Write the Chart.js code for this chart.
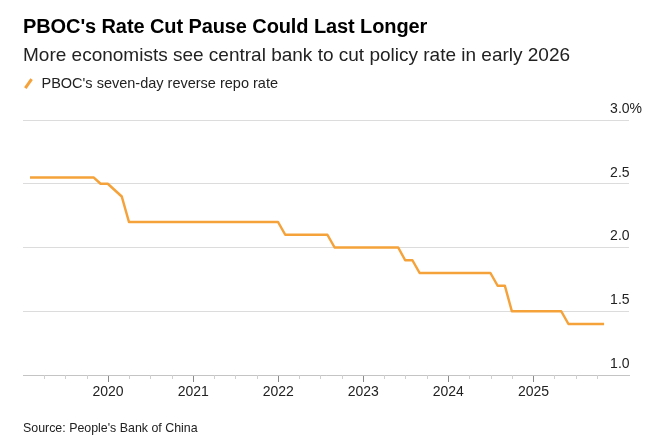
<!DOCTYPE html>
<html lang="en">
<head>
  <meta charset="UTF-8" />
  <title>PBOC's Rate Cut Pause Could Last Longer</title>
  <script src="https://cdn.jsdelivr.net/npm/chart.js"></script>
  <style>
    html, body { margin: 0; padding: 0; background: #fff; }
    body { width: 657px; height: 437px; position: relative; overflow: hidden; font-family: "Liberation Sans", Arial, sans-serif; color: #111; }
    .title { position: absolute; left: 23px; top: 14px; font-size: 20px; font-weight: bold; line-height: 24px; color: #000; letter-spacing: -0.1px; }
    .subtitle { position: absolute; left: 23px; top: 44px; font-size: 19px; line-height: 22px; color: #222; }
    .legend { position: absolute; left: 23px; top: 74px; font-size: 14.5px; line-height: 18px; color: #222; }
    .legend .swatch { display: inline-block; width: 2.5px; height: 11px; background: #F5A23A; transform: rotate(35deg); margin: 0 12px 0 4px; vertical-align: -1px; }
    .source { position: absolute; left: 23px; top: 420px; font-size: 12.4px; line-height: 16px; color: #222; }
    #wrap { position: absolute; left: 0; top: 0; width: 657px; height: 437px; }
  </style>
</head>
<body>
  <div id="wrap"><canvas id="rateChart"></canvas></div>
  <div class="title">PBOC's Rate Cut Pause Could Last Longer</div>
  <div class="subtitle">More economists see central bank to cut policy rate in early 2026</div>
  <div class="legend"><span class="swatch"></span>PBOC's seven-day reverse repo rate</div>
  <div class="source">Source: People's Bank of China</div>

  <script>
    // month-end readings where the line changes direction
    const dates = [
      "2019-01-31", "2019-10-31", "2019-11-30", "2019-12-31", "2020-02-29", "2020-03-31",
      "2021-12-31", "2022-01-31", "2022-07-31", "2022-08-31", "2023-05-31", "2023-06-30",
      "2023-07-31", "2023-08-31", "2024-06-30", "2024-07-31", "2024-08-31", "2024-09-30",
      "2025-04-30", "2025-05-31", "2025-10-31"
    ];
    const rates = [
      2.55, 2.55, 2.50, 2.50, 2.40, 2.20,
      2.20, 2.10, 2.10, 2.00, 2.00, 1.90,
      1.90, 1.80, 1.80, 1.70, 1.70, 1.50,
      1.50, 1.40, 1.40
    ];
    const yearLabels = ["2020", "2021", "2022", "2023", "2024", "2025"];
    const yTicks = [1.0, 1.5, 2.0, 2.5, 3.0];
    const xMin = Date.parse("2019-01-01");
    const xMax = Date.parse("2026-02-15");

    // quarter ticks: Apr/Jul/Oct 2019, then every quarter of the labelled years
    const xTicks = [];
    ["2019"].concat(yearLabels).forEach(y => {
      ["01", "04", "07", "10"].forEach(m => {
        const v = Date.parse(y + "-" + m + "-01");
        if (v > xMin) xTicks.push(v);
      });
    });
    const isYearStart = v => new Date(v).getUTCMonth() === 0;

    const minorTicks = {
      id: "minorTicks",
      afterDraw(chart) {
        const sx = chart.scales.x;
        const ctx = chart.ctx;
        const y0 = chart.chartArea.bottom;
        ctx.save();
        ctx.strokeStyle = "#cfcfcf";
        ctx.lineWidth = 1;
        sx.ticks.forEach(t => {
          if (isYearStart(t.value)) return;
          const px = Math.round(sx.getPixelForValue(t.value)) + 0.5;
          ctx.beginPath();
          ctx.moveTo(px, y0);
          ctx.lineTo(px, y0 + 4);
          ctx.stroke();
        });
        ctx.restore();
      }
    };

    new Chart(document.getElementById("rateChart"), {
      type: "line",
      data: {
        datasets: [{
          label: "PBOC's seven-day reverse repo rate",
          data: dates.map((d, i) => ({ x: Date.parse(d), y: rates[i] })),
          borderColor: "#F5A23A",
          borderWidth: 2.5,
          pointRadius: 0,
          tension: 0,
          borderJoinStyle: "round",
          fill: false
        }]
      },
      options: {
        responsive: true,
        maintainAspectRatio: false,
        animation: false,
        layout: { padding: { left: 23, top: 120, right: 28, bottom: 32 } },
        plugins: { legend: { display: false }, tooltip: { enabled: false } },
        scales: {
          x: {
            type: "linear",
            min: xMin,
            max: xMax,
            afterBuildTicks: s => { s.ticks = xTicks.map(v => ({ value: v })); },
            afterFit: s => { s.height = 30; },
            border: { display: true, color: "#c4c4c4" },
            grid: {
              drawOnChartArea: false,
              drawTicks: true,
              tickLength: 7,
              tickColor: c => (c.tick && isYearStart(c.tick.value)) ? "#8a8a8a" : "rgba(0,0,0,0)"
            },
            ticks: {
              autoSkip: false,
              maxRotation: 0,
              padding: 2,
              color: "#222",
              font: { family: "Liberation Sans", size: 14 },
              callback: v => isYearStart(v) ? String(new Date(v).getUTCFullYear()) : ""
            }
          },
          y: {
            position: "right",
            min: 1,
            max: 3,
            afterBuildTicks: s => { s.ticks = yTicks.map(v => ({ value: v })); },
            afterFit: s => { s.width = 0; },
            border: { display: false },
            grid: { color: "#dcdcdc", drawTicks: false },
            ticks: {
              mirror: true,
              crossAlign: "far",
              padding: 13,
              labelOffset: -11,
              color: "#222",
              font: { family: "Liberation Sans", size: 14 },
              callback: v => v === 3 ? "3.0%" : v.toFixed(1)
            }
          }
        }
      },
      plugins: [minorTicks]
    });
  </script>
</body>
</html>
